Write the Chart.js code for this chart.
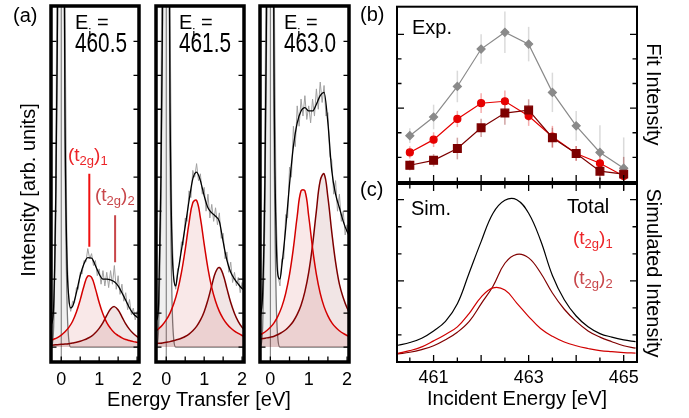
<!DOCTYPE html>
<html>
<head>
<meta charset="utf-8">
<script src="https://cdn.jsdelivr.net/npm/chart.js@4.4.0/dist/chart.umd.min.js"></script>
<style>
  body { margin: 0; background: #fff; width: 689px; height: 418px; position: relative; overflow: hidden; }
  canvas { position: absolute; }
</style>
</head>
<body>
<canvas id="a1" style="left:0px;top:0px" width="150" height="418"></canvas>
<canvas id="a2" style="left:100px;top:0px" width="200" height="418"></canvas>
<canvas id="a3" style="left:250px;top:0px" width="110" height="418"></canvas>
<canvas id="pb" style="left:340px;top:0px" width="349" height="190"></canvas>
<canvas id="pc" style="left:340px;top:180px" width="349" height="238"></canvas>
<script>
// ---- panel (a): energy transfer grids [eV]
const ET_FINE = [-0.3, -0.25, -0.2, -0.15, -0.1, -0.05, 0, 0.05, 0.1, 0.15, 0.2, 0.25, 0.3,
  0.4, 0.5, 0.6, 0.7, 0.8, 0.9, 1.0, 1.1, 1.2, 1.3, 1.4, 1.5, 1.6, 1.7, 1.8, 1.9, 2.0, 2.1];
const ET_FIT = [-0.3, -0.2, -0.1, 0, 0.1, 0.2, 0.3, 0.4, 0.5, 0.6, 0.7, 0.8, 0.9, 1.0,
  1.1, 1.2, 1.3, 1.4, 1.5, 1.6, 1.7, 1.8, 1.9, 2.0, 2.1];
const ET_DATA = [-0.3, -0.25, -0.2, -0.15, -0.1, -0.05, 0, 0.05, 0.1, 0.15, 0.2, 0.25, 0.3, 0.35,
  0.4, 0.45, 0.5, 0.55, 0.6, 0.65, 0.7, 0.75, 0.8, 0.85, 0.9, 0.95, 1.0, 1.05, 1.1, 1.15, 1.2,
  1.25, 1.3, 1.35, 1.4, 1.45, 1.5, 1.55, 1.6, 1.65, 1.7, 1.75, 1.8, 1.85, 1.9, 1.95, 2.0, 2.05];

const elasticFit = [0, 0.05, 0.6, 3.5, 9, 22, 30, 18, 6, 1.5, 0.2, 0, 0,
  0, 0, 0, 0, 0, 0, 0, 0, 0, 0, 0, 0, 0, 0, 0, 0, 0, 0];

// Ei = 460.5
const total1 = [0.6, 0.7, 1.2, 4.0, 9.5, 22.5, 30.5, 18.5, 6.8, 2.6, 1.45, 1.15, 1.2,
  1.6, 2.1, 2.45, 2.63, 2.62, 2.4, 2.15, 2.0, 2.0, 1.98, 1.92, 1.8, 1.6, 1.38, 1.15, 0.98, 0.88, 0.82];
const t2g1_1 = [0.19, 0.23, 0.28, 0.35, 0.45, 0.58, 0.76, 1.03, 1.39, 1.8, 2.09, 2.05, 1.72, 1.31,
  0.97, 0.72, 0.55, 0.42, 0.34, 0.27, 0.22, 0.19, 0.16, 0.14, 0.12];
const t2g2_1 = [0.05, 0.06, 0.07, 0.08, 0.09, 0.1, 0.12, 0.14, 0.17, 0.21, 0.26, 0.32, 0.42, 0.55,
  0.72, 0.93, 1.12, 1.19, 1.09, 0.89, 0.68, 0.52, 0.4, 0.31, 0.24];
const raw1 = [0.5, 0.55, 1.2, 4.5, 13, 32, 40, 24, 10, 3,
  1.3, 1.05, 1.35, 1.3, 1.75, 1.7, 2.2, 2.15, 2.55, 2.5, 2.9, 2.6, 2.75, 2.4, 2.55, 2.1, 2.3, 1.85,
  2.25, 1.8, 2.2, 1.75, 2.25, 1.85, 2.4, 1.7, 2.1, 1.55, 1.85, 1.35, 1.6, 1.1, 1.4, 0.95, 1.15, 0.8, 1.05, 0.9];

// Ei = 461.5
const total2 = [0.75, 0.8, 1.3, 4.2, 9.6, 22.6, 30.6, 18.7, 7.2, 3.1, 2.0, 1.8, 2.15,
  2.85, 3.55, 4.3, 4.95, 5.15, 4.9, 4.45, 4.1, 3.95, 3.85, 3.7, 3.1, 2.55, 2.2, 2.0, 1.85, 1.72, 1.65];
const t2g1_2 = [0.45, 0.54, 0.65, 0.8, 1.0, 1.28, 1.66, 2.19, 2.87, 3.65, 4.25, 4.32, 3.8, 3.03,
  2.31, 1.75, 1.35, 1.05, 0.84, 0.68, 0.56, 0.47, 0.4, 0.34, 0.29];
const t2g2_2 = [0.1, 0.11, 0.12, 0.14, 0.16, 0.19, 0.22, 0.26, 0.31, 0.38, 0.48, 0.61, 0.79, 1.04,
  1.39, 1.81, 2.2, 2.34, 2.13, 1.72, 1.31, 0.99, 0.75, 0.58, 0.46];
const raw2 = [0.7, 0.8, 1.4, 5, 14, 32, 40, 25, 10, 3.5,
  2.0, 1.7, 2.3, 2.4, 3.1, 3.0, 3.8, 3.7, 4.6, 4.4, 5.2, 5.0, 5.4, 4.9, 5.1, 4.5, 4.7, 4.0,
  4.5, 3.8, 4.2, 3.7, 4.1, 3.6, 3.95, 3.2, 3.35, 2.6, 2.8, 2.2, 2.5, 1.9, 2.2, 1.8, 2.05, 1.6, 1.9, 1.6];

// Ei = 463.0
const total3 = [0.8, 1.0, 1.6, 4.3, 9.8, 22.8, 30.8, 19, 7.5, 3.3, 2.1, 2.0, 2.4,
  3.5, 4.8, 5.9, 6.6, 6.95, 7.05, 6.95, 6.95, 7.15, 7.4, 7.5, 6.6, 5.2, 4.5, 4.1, 3.7, 3.4, 3.2];
const t2g1_3 = [0.34, 0.4, 0.48, 0.58, 0.72, 0.92, 1.19, 1.58, 2.14, 2.91, 3.85, 4.6, 4.6, 3.85,
  2.91, 2.14, 1.58, 1.19, 0.92, 0.72, 0.58, 0.48, 0.4, 0.34, 0.29];
const t2g2_3 = [0.24, 0.25, 0.27, 0.29, 0.32, 0.37, 0.43, 0.51, 0.62, 0.76, 0.96, 1.23, 1.63, 2.2,
  3.0, 4.01, 4.9, 5.1, 4.41, 3.39, 2.5, 1.85, 1.45, 1.15, 0.95];
const raw3 = [0.9, 0.9, 1.8, 5, 14, 33, 42, 25, 11, 4,
  2.1, 1.8, 2.6, 2.6, 3.9, 3.8, 5.3, 5.0, 6.5, 5.9, 7.1, 6.5, 7.3, 6.8, 7.4, 6.7, 7.1, 6.6,
  7.3, 6.8, 7.6, 7.0, 7.8, 7.2, 7.7, 6.8, 6.9, 5.6, 5.5, 4.5, 4.9, 4.0, 4.5, 3.7, 4.0, 3.3, 3.6, 3.2];

const A_TICK_LABELS = [0, 1, 2];
const A_X_TICKS = [0, 0.5, 1, 1.5, 2];
const A_Y_TICKS = [0, 1, 2, 3, 4, 5, 6, 7, 8, 9];

// ---- panel (b): fitted intensities vs incident energy
const IE = [460.5, 461, 461.5, 462, 462.5, 463, 463.5, 464, 464.5, 465];
const expTotal = [1.88, 2.64, 3.88, 5.4, 6.08, 5.6, 3.64, 2.28, 1.2, 0.56];
const expTotalErr = [0.3, 0.5, 0.64, 0.6, 0.84, 0.7, 0.8, 0.6, 1.1, 1.25];
const expT1 = [1.2, 1.72, 2.56, 3.2, 3.28, 2.68, 1.84, 1.16, 0.76, 0.24];
const expT1Err = [0.25, 0.3, 0.33, 0.4, 0.44, 0.4, 0.44, 0.3, 0.4, 0.3];
const expT2 = [0.68, 0.88, 1.36, 2.2, 2.8, 2.92, 1.8, 1.16, 0.44, 0.32];
const expT2Err = [0.2, 0.25, 0.44, 0.37, 0.47, 0.44, 0.4, 0.3, 0.35, 0.7];

// ---- panel (c): simulated intensities
const IE_SIM = [460.25, 460.5, 460.75, 461, 461.25, 461.5, 461.75, 462, 462.25, 462.5, 462.75,
  463, 463.25, 463.5, 463.75, 464, 464.25, 464.5, 464.75, 465, 465.25];
const simTotal = [0.62, 0.72, 0.88, 1.15, 1.5, 2.15, 3.3, 4.45, 5.5, 5.98, 6.0,
  5.5, 4.5, 3.2, 2.3, 1.7, 1.3, 1.05, 0.92, 0.82, 0.75];
const simT1 = [0.32, 0.42, 0.56, 0.78, 1.02, 1.3, 1.8, 2.4, 2.74, 2.66, 2.18,
  1.68, 1.24, 0.95, 0.74, 0.6, 0.5, 0.42, 0.38, 0.35, 0.33];
const simT2 = [0.3, 0.36, 0.46, 0.6, 0.82, 1.1, 1.5, 2.15, 2.8, 3.65, 3.98,
  3.85, 3.3, 2.55, 1.95, 1.5, 1.15, 0.92, 0.75, 0.6, 0.51];

const IE_TICK_LABELS = [461, 463, 465];
const IE_TICKS = [460.5, 461, 461.5, 462, 462.5, 463, 463.5, 464, 464.5, 465];
const BC_Y_TICKS = [1, 2, 3, 4, 5, 6];

// ---- styling
const FONT = "'Liberation Sans', Arial, Helvetica, sans-serif";
const RED = '#d40000';
const DARK = '#7d0000';
const LABEL_RED = '#ec2428';
const LABEL_DARK = '#c8464a';

function pts(xs, ys) {
  return ys.map((y, i) => ({ x: xs[i], y: y }));
}

// smooth: 'mono' keeps steep elastic parts from overshooting, otherwise bezier
function curve(xs, ys, color, width, fillColor, smooth) {
  return {
    data: pts(xs, ys),
    borderColor: color,
    borderWidth: width,
    pointRadius: 0,
    cubicInterpolationMode: smooth === 'mono' ? 'monotone' : 'default',
    tension: 0.4,
    fill: fillColor ? 'origin' : false,
    backgroundColor: fillColor || 'transparent'
  };
}

function frameTicks(o) {
  return {
    id: 'frameTicks',
    afterDatasetsDraw(chart) {
      const { ctx, chartArea: a, scales } = chart;
      const x = scales.x, y = scales.y;
      ctx.save();
      ctx.strokeStyle = '#000';
      ctx.lineWidth = 1.3;
      ctx.beginPath();
      o.xTicks.forEach(([v, len]) => {
        const px = x.getPixelForValue(v);
        if (o.bottom) { ctx.moveTo(px, a.bottom); ctx.lineTo(px, a.bottom - len); }
        if (o.top) { ctx.moveTo(px, a.top); ctx.lineTo(px, a.top + len); }
      });
      o.yTicks.forEach(([v, len]) => {
        const py = y.getPixelForValue(v);
        ctx.moveTo(a.left, py); ctx.lineTo(a.left + len, py);
        ctx.moveTo(a.right, py); ctx.lineTo(a.right - len, py);
      });
      ctx.stroke();
      ctx.lineWidth = o.frame;
      ctx.strokeRect(a.left, a.top, a.right - a.left, a.bottom - a.top);
      ctx.restore();
    }
  };
}

// text placed in page coordinates; segs = [text, size, dy]
function pageText(offX, offY, items) {
  return {
    id: 'pageText',
    afterDraw(chart) {
      const ctx = chart.ctx;
      ctx.save();
      ctx.translate(-offX, -offY);
      items.forEach(it => {
        ctx.save();
        ctx.translate(it.x, it.y);
        if (it.rot) ctx.rotate(it.rot);
        if (it.sx) ctx.scale(it.sx, 1);
        ctx.fillStyle = it.color || '#000';
        ctx.textAlign = it.align || 'left';
        ctx.textBaseline = it.baseline || 'alphabetic';
        let cx = 0;
        it.segs.forEach(s => {
          ctx.font = s[1] + 'px ' + FONT;
          ctx.fillText(s[0], cx, s[2] || 0);
          cx += ctx.measureText(s[0]).width;
        });
        ctx.restore();
      });
      ctx.restore();
    }
  };
}

function t2gLabel(x, y, n, color) {
  return { x: x, y: y, color: color, segs: [['(t', 19], ['2g', 13, 4], [')', 19], [String(n), 13, 4]] };
}

function eiLabels(x, ei) {
  return [
    { x: x, y: 52, sx: 0.77, segs: [[ei, 27]] },
    { x: x, y: 29, segs: [['E', 20], ['i', 14, 10], [' =', 20]] }
  ];
}

const aFrame = frameTicks({
  frame: 3.5, bottom: true, top: false,
  xTicks: A_X_TICKS.map(v => [v, 5.5]),
  yTicks: A_Y_TICKS.map(v => [v, 5.5])
});

function subplot(id, left, padL, padR, total, t1, t2, raw, extra, texts) {
  const datasets = [
    curve(ET_FINE, total, '#000', 1.3, null, 'mono'),
    ...extra,
    curve(ET_FIT, t1, RED, 1.5, 'rgba(200,30,30,0.10)'),
    curve(ET_FIT, t2, DARK, 1.5, 'rgba(120,0,0,0.10)'),
    { data: pts(ET_DATA, raw), borderColor: '#a0a0a0', borderWidth: 1, pointRadius: 0, tension: 0, fill: false },
    curve(ET_FINE, elasticFit, '#7a7a7a', 1.3, 'rgba(0,0,0,0.06)', 'mono'),
    { data: [{ x: 0, y: -1 }, { x: 0, y: 20 }], borderColor: '#777', borderWidth: 1, pointRadius: 0, fill: false }
  ];
  new Chart(document.getElementById(id), {
    type: 'line',
    data: { datasets: datasets },
    options: {
      responsive: false,
      animation: false,
      events: [],
      layout: { padding: { left: padL, right: padR, top: 6, bottom: 0 } },
      plugins: { legend: { display: false }, tooltip: { enabled: false } },
      scales: {
        x: {
          type: 'linear', min: -0.27, max: 2.05,
          grid: { display: false, drawTicks: false },
          border: { display: false },
          afterBuildTicks: ax => { ax.ticks = A_TICK_LABELS.map(v => ({ value: v })); },
          afterFit: ax => { ax.height = 56; },
          ticks: { padding: 7, color: '#000', font: { size: 18, family: FONT }, maxRotation: 0, autoSkip: false }
        },
        y: { type: 'linear', display: false, min: -0.44, max: 10.04 }
      }
    },
    plugins: [aFrame, pageText(left, 0, texts)]
  });
}

subplot('a1', 0, 51, 11, total1, t2g1_1, t2g2_1, raw1, [
  { data: [{ x: 0.74, y: 5.1 }, { x: 0.74, y: 2.95 }], borderColor: '#f01010', borderWidth: 2, pointRadius: 0, fill: false },
  { data: [{ x: 1.42, y: 3.88 }, { x: 1.42, y: 2.5 }], borderColor: '#c8464a', borderWidth: 2, pointRadius: 0, fill: false }
], [
  { x: 13, y: 22, segs: [['(a)', 20]] },
  { x: 29, y: 190, rot: -Math.PI / 2, align: 'center', baseline: 'middle', segs: [['Intensity [arb. units]', 20]] },
  t2gLabel(68, 161, 1, LABEL_RED),
  t2gLabel(95, 201, 2, LABEL_DARK),
  ...eiLabels(75, '460.5')
]);

subplot('a2', 100, 56, 56, total2, t2g1_2, t2g2_2, raw2, [], [
  ...eiLabels(179, '461.5'),
  { x: 199, y: 406, align: 'center', segs: [['Energy Transfer [eV]', 20]] }
]);

subplot('a3', 250, 10, 11, total3, t2g1_3, t2g2_3, raw3, [], [
  ...eiLabels(284, '463.0')
]);

// ---- panel (b)
const bcXTicks = IE_TICKS.map(v => [v, Number.isInteger(v) ? 7 : 4.5]);
const bcYTicks = BC_Y_TICKS.map(v => [v, v % 3 === 0 ? 7 : 4.5]);

const errorBars = {
  id: 'errorBars',
  beforeDatasetsDraw(chart) {
    const { ctx, scales: { x, y } } = chart;
    const sets = [
      [expTotal, expTotalErr, 'rgba(150,150,150,0.35)'],
      [expT1, expT1Err, 'rgba(235,70,70,0.45)'],
      [expT2, expT2Err, 'rgba(150,50,50,0.45)']
    ];
    ctx.save();
    ctx.lineWidth = 1.5;
    sets.forEach(([vals, errs, color]) => {
      ctx.strokeStyle = color;
      IE.forEach((e, i) => {
        const px = x.getPixelForValue(e);
        ctx.beginPath();
        ctx.moveTo(px, y.getPixelForValue(vals[i] - errs[i]));
        ctx.lineTo(px, y.getPixelForValue(vals[i] + errs[i]));
        ctx.stroke();
      });
    });
    ctx.restore();
  }
};

function rightAxis(min, max, title) {
  return {
    type: 'linear', position: 'right', min: min, max: max,
    ticks: { display: false },
    grid: { display: false, drawTicks: false },
    border: { display: false },
    title: { display: true, text: title, color: '#000', font: { size: 20, family: FONT }, padding: { top: 24, bottom: 0 } },
    afterFit: ax => { ax.width = 52; }
  };
}

new Chart(document.getElementById('pb'), {
  type: 'line',
  data: {
    datasets: [
      { data: pts(IE, expT2), borderColor: DARK, backgroundColor: DARK, borderWidth: 1.2,
        pointStyle: 'rect', pointRadius: 5.5, tension: 0, fill: false },
      { data: pts(IE, expT1), borderColor: '#e60000', backgroundColor: '#e60000', borderWidth: 1.2,
        pointStyle: 'circle', pointRadius: 3.5, tension: 0, fill: false },
      { data: pts(IE, expTotal), borderColor: '#8a8a8a', backgroundColor: '#8a8a8a', borderWidth: 1.2,
        pointStyle: 'rectRot', pointRadius: 4, tension: 0, fill: false }
    ]
  },
  options: {
    responsive: false,
    animation: false,
    events: [],
    layout: { padding: { left: 57, right: 0, top: 5, bottom: 8 } },
    plugins: { legend: { display: false }, tooltip: { enabled: false } },
    scales: {
      x: { type: 'linear', display: false, min: 460.23, max: 465.28 },
      y: rightAxis(0, 7.12, 'Fit Intensity')
    }
  },
  plugins: [errorBars, frameTicks({ frame: 2, bottom: true, top: false, xTicks: bcXTicks, yTicks: bcYTicks }),
    pageText(340, 0, [
      { x: 360, y: 21, segs: [['(b)', 20]] },
      { x: 412, y: 34, segs: [['Exp.', 20]] }
    ])]
});

// ---- panel (c)
new Chart(document.getElementById('pc'), {
  type: 'line',
  data: {
    datasets: [
      curve(IE_SIM, simTotal, '#000', 1.2),
      curve(IE_SIM, simT1, '#d00000', 1.2),
      curve(IE_SIM, simT2, '#800000', 1.2)
    ]
  },
  options: {
    responsive: false,
    animation: false,
    events: [],
    layout: { padding: { left: 57, right: 0, top: 4, bottom: 0 } },
    plugins: { legend: { display: false }, tooltip: { enabled: false } },
    scales: {
      x: {
        type: 'linear', min: 460.23, max: 465.28,
        grid: { display: false, drawTicks: false },
        border: { display: false },
        afterBuildTicks: ax => { ax.ticks = IE_TICK_LABELS.map(v => ({ value: v })); },
        afterFit: ax => { ax.height = 56; },
        ticks: { padding: 5, color: '#000', font: { size: 18, family: FONT }, maxRotation: 0, autoSkip: false },
        title: { display: true, text: 'Incident Energy [eV]', color: '#000', font: { size: 20, family: FONT }, padding: { top: 0, bottom: 7 } }
      },
      y: rightAxis(0, 6.58, 'Simulated Intensity')
    }
  },
  plugins: [frameTicks({ frame: 2, bottom: true, top: true, xTicks: bcXTicks, yTicks: bcYTicks }),
    pageText(340, 180, [
      { x: 360, y: 196, segs: [['(c)', 20]] },
      { x: 411, y: 215, segs: [['Sim.', 20]] },
      { x: 567, y: 213, segs: [['Total', 20]] },
      t2gLabel(573, 244, 1, LABEL_RED),
      t2gLabel(573, 284, 2, LABEL_DARK)
    ])]
});
</script>
</body>
</html>
